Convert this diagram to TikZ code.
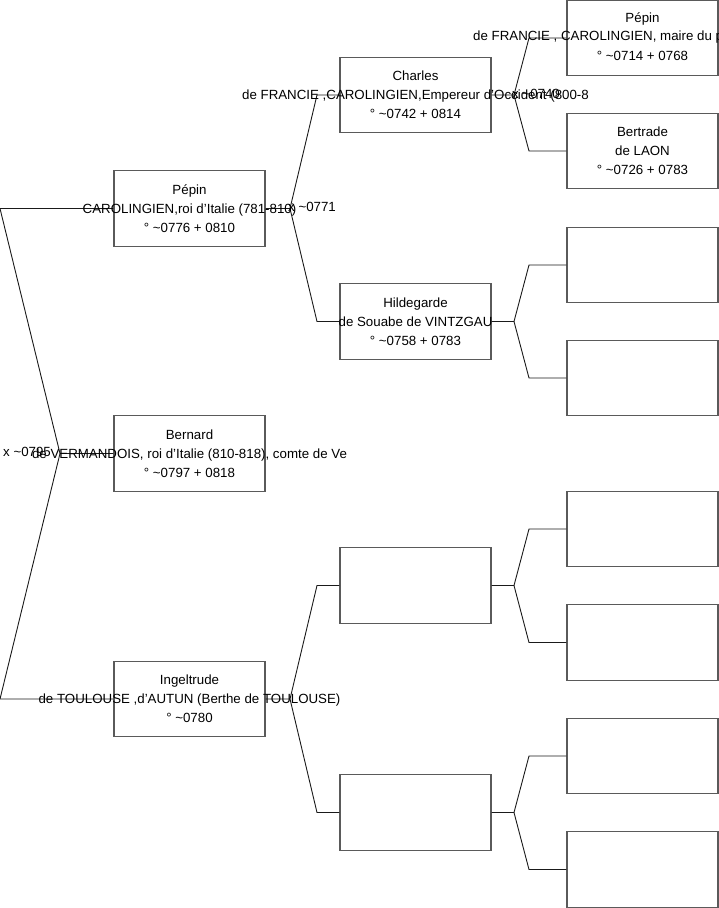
\documentclass[tikz,border=0pt]{standalone}
\usepackage{fontspec}
\setmainfont{Liberation Sans}
\definecolor{boxgray}{HTML}{5A5A5A}
\definecolor{linec}{HTML}{1A1A1A}
\begin{document}
\begin{tikzpicture}[x=1pt,y=-1pt,
  pbox/.style={draw=boxgray,line width=1.3pt,minimum width=151pt,minimum height=75.5pt,inner sep=0pt},
  ptext/.style={align=center,font=\fontsize{13.3}{19}\selectfont,inner sep=0pt,text=black},
  pline/.style={font=\fontsize{13.3}{16}\selectfont,inner sep=0pt,text=black},
  mlabel/.style={anchor=west,font=\fontsize{13.3}{16}\selectfont,inner sep=0pt,text=black},
  conn/.style={draw=linec,line width=0.9pt}]
\useasboundingbox (0,0) rectangle (719,908);
\clip (0,0) rectangle (719,908);

% generation 1
\node[pbox] (pepinI) at (189.5,208.5) {};
\node[pbox] (bernard) at (189.5,453.5) {};
\node[pbox] (ingel) at (189.5,699) {};
% generation 2
\node[pbox] (charles) at (415.5,95) {};
\node[pbox] (hilde) at (415.5,321.5) {};
\node[pbox] (gA) at (415.5,585.5) {};
\node[pbox] (gB) at (415.5,812.5) {};
% generation 3
\node[pbox] (pepinB) at (642.5,38) {};
\node[pbox] (bertrade) at (642.5,151) {};
\node[pbox] (h1) at (642.5,265) {};
\node[pbox] (h2) at (642.5,378) {};
\node[pbox] (a1) at (642.5,529) {};
\node[pbox] (a2) at (642.5,642.5) {};
\node[pbox] (b1) at (642.5,756) {};
\node[pbox] (b2) at (642.5,869.5) {};

% junction points
\coordinate (jL) at (60,453.5);
\coordinate (jLt) at (0,208.5);
\coordinate (jLb) at (0,699);
\coordinate (jP) at (290,208.5);
\coordinate (jPt) at (317,95);
\coordinate (jPb) at (317,321.5);
\coordinate (jI) at (290,699);
\coordinate (jIt) at (317,585.5);
\coordinate (jIb) at (317,812.5);
\coordinate (jC) at (514,95);
\coordinate (jCt) at (529,38);
\coordinate (jCb) at (529,151);
\coordinate (jH) at (514,321.5);
\coordinate (jHt) at (529,265);
\coordinate (jHb) at (529,378);
\coordinate (jA) at (514,585.5);
\coordinate (jAt) at (529,529);
\coordinate (jAb) at (529,642.5);
\coordinate (jB) at (514,812.5);
\coordinate (jBt) at (529,756);
\coordinate (jBb) at (529,869.5);

% connectors
\path[conn] (bernard.west) -- (jL) -- (jLt) -- (pepinI.west);
\path[conn] (jL) -- (jLb) -- (ingel.west);
\path[conn] (pepinI.east) -- (jP) -- (jPt) -- (charles.west);
\path[conn] (jP) -- (jPb) -- (hilde.west);
\path[conn] (ingel.east) -- (jI) -- (jIt) -- (gA.west);
\path[conn] (jI) -- (jIb) -- (gB.west);
\path[conn] (charles.east) -- (jC) -- (jCt) -- (pepinB.west);
\path[conn] (jC) -- (jCb) -- (bertrade.west);
\path[conn] (hilde.east) -- (jH) -- (jHt) -- (h1.west);
\path[conn] (jH) -- (jHb) -- (h2.west);
\path[conn] (gA.east) -- (jA) -- (jAt) -- (a1.west);
\path[conn] (jA) -- (jAb) -- (a2.west);
\path[conn] (gB.east) -- (jB) -- (jBt) -- (b1.west);
\path[conn] (jB) -- (jBb) -- (b2.west);

% texts
\node[ptext] (pepinIt) at (pepinI.center) {Pépin\\CAROLINGIEN,roi d'Italie (781-810)\\° \textasciitilde0776 + 0810};
\node[ptext] (bernardt) at (bernard.center) {Bernard\\de VERMANDOIS, roi d'Italie (810-818), comte de Ve\\° \textasciitilde0797 + 0818};
\node[ptext] (ingelt) at (ingel.center) {Ingeltrude\\de TOULOUSE ,d'AUTUN (Berthe de TOULOUSE)\\° \textasciitilde0780};
\node[ptext] (charlest) at (charles.center) {Charles\\de FRANCIE ,CAROLINGIEN,Empereur d'Occident (800-8\\° \textasciitilde0742 + 0814};
\node[ptext] (hildet) at (hilde.center) {Hildegarde\\de Souabe de VINTZGAU\\° \textasciitilde0758 + 0783};
\node[pline] (pepinBt1) at ([yshift=19pt]pepinB.center) {Pépin};
\node[pline, anchor=west] (pepinBt2) at (473,37) {de FRANCIE , CAROLINGIEN, maire du palais};
\node[pline] (pepinBt3) at ([yshift=-18pt]pepinB.center) {° \textasciitilde0714 + 0768};
\node[ptext] (bertradet) at (bertrade.center) {Bertrade\\de LAON\\° \textasciitilde0726 + 0783};

% marriage labels
\node[mlabel] (mL) at ([xshift=3pt,yshift=1.5pt]jL -| jLt) {x \textasciitilde0795};
\node[mlabel] (mP) at ([xshift=-2pt,yshift=1.5pt]jP) {x \textasciitilde0771};
\node[mlabel] (mC) at ([xshift=-2pt,yshift=1.5pt]jC) {x \textasciitilde0740};
\end{tikzpicture}
\end{document}
